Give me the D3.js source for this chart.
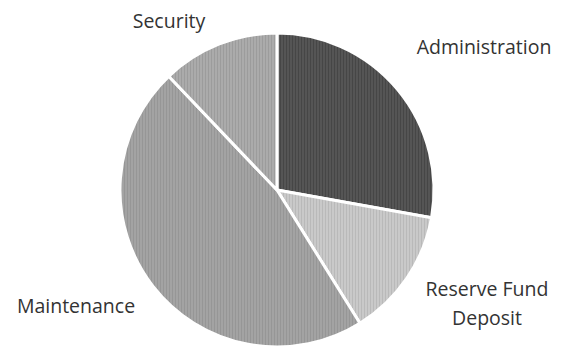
<!DOCTYPE html>
<html>
<head>
<meta charset="utf-8">
<script src="https://cdn.jsdelivr.net/npm/d3@7"></script>
<style>
  body { margin: 0; background: #fff; }
  text { font-family: "Open Sans", sans-serif; fill: #333; }
</style>
</head>
<body>
<div id="chart-area"></div>
<script>
// slice data, clockwise from 12 o'clock
var categories = ["Administration", "Reserve Fund Deposit", "Maintenance", "Security"];
var shares = [27.8, 13.3, 46.7, 12.1];
var labelLines = [["Administration"], ["Reserve Fund", "Deposit"], ["Maintenance"], ["Security"]];

var width = 566;
var height = 346;
var radius = 157;
var cx = 277, cy = 190;

var fills = ["#555555", "#c9c9c9", "#a3a3a3", "#ababab"];
var stripes = ["#464646", "#b9b9b9", "#969696", "#9c9c9c"];
// label baselines, relative to pie center (layout only)
var labelPos = [
  {x: 207, y: -136},
  {x: 210, y: 106},
  {x: -201, y: 123},
  {x: -108, y: -162}
];

var svg = d3.select("#chart-area")
            .append("svg")
            .attr("width", width)
            .attr("height", height);

var defs = svg.append("defs");
fills.forEach((f, i) => {
  var p = defs.append("pattern")
              .attr("id", "pat" + i)
              .attr("patternUnits", "userSpaceOnUse")
              .attr("width", 3)
              .attr("height", 3);
  p.append("rect").attr("width", 3).attr("height", 3).attr("fill", f);
  p.append("rect").attr("width", 1).attr("height", 3).attr("fill", stripes[i]);
});

var g = svg.append("g")
           .attr("transform", "translate(" + cx + "," + cy + ")");

var pie = d3.pie().sort(null).value((d) => d);
var arcs = pie(shares);

var arc = d3.arc().innerRadius(0).outerRadius(radius);

g.selectAll("path.slice")
 .data(arcs)
 .enter().append("path")
 .attr("class", "slice")
 .attr("d", arc)
 .attr("fill", (d, i) => "url(#pat" + i + ")")
 .attr("stroke", "#fff")
 .attr("stroke-width", 3)
 .attr("stroke-linejoin", "round");

// labels
arcs.forEach((d, i) => {
  var lp = labelPos[i];
  var t = g.append("text")
           .attr("text-anchor", "middle")
           .attr("font-size", "19.5px")
           .attr("transform", "translate(" + lp.x + "," + lp.y + ")");
  labelLines[i].forEach((line, j) => {
    t.append("tspan")
     .attr("x", 0)
     .attr("y", j * 29)
     .text(line);
  });
});
</script>
</body>
</html>
